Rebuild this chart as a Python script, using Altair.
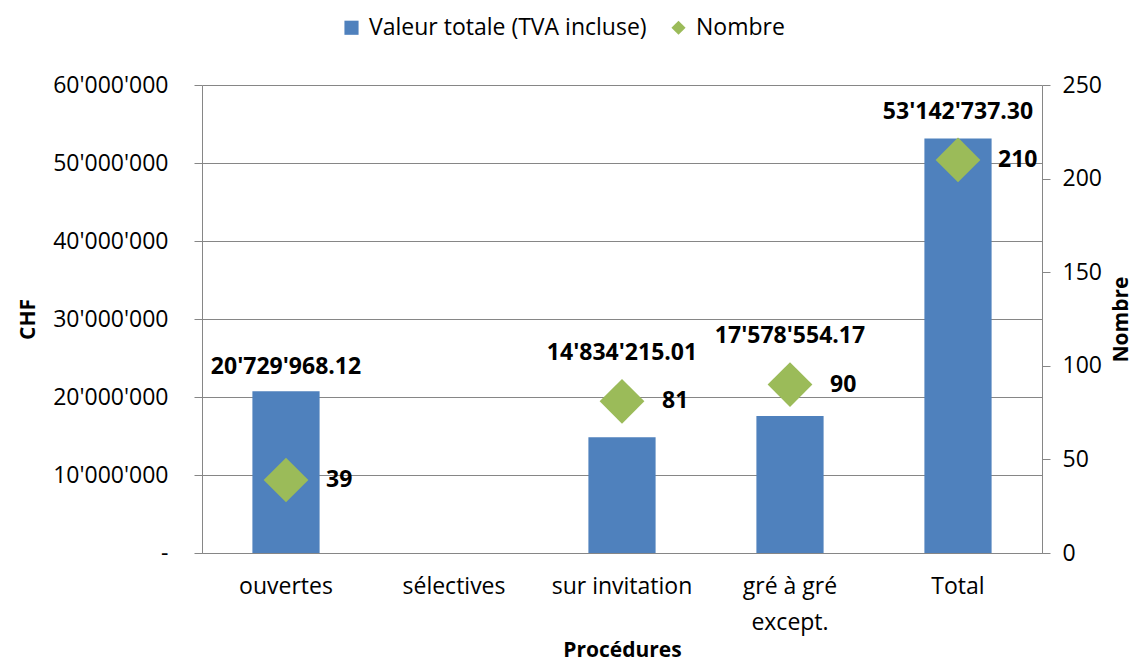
import altair as alt
import pandas as pd

categories = ["ouvertes", "sélectives", "sur invitation", "gré à gré except.", "Total"]
valeurs = [20729968.12, None, 14834215.01, 17578554.17, 53142737.30]
nombres = [39, None, 81, 90, 210]
chf_ticks = [0, 10000000, 20000000, 30000000, 40000000, 50000000, 60000000]
nombre_ticks = [0, 50, 100, 150, 200, 250]
series = ["Valeur totale (TVA incluse)", "Nombre"]

BLUE = "#4F81BD"
GREEN = "#9BBB59"
GRAY = "#868686"
FONT = "Open Sans"

df = pd.DataFrame({"cat": categories, "valeur": valeurs, "nombre": nombres})

ratio = chf_ticks[-1] / nombre_ticks[-1]

color_scale = alt.Scale(domain=series, range=[BLUE, GREEN])
shape_scale = alt.Scale(domain=series, range=["square", "diamond"])
legend = alt.Legend(
    title=None, orient="none", direction="horizontal", legendX=138, legendY=-69,
    labelFontSize=23, labelFont=FONT, labelColor="black", symbolSize=200,
    symbolStrokeWidth=0, columnPadding=20, labelLimit=0, symbolOpacity=1, labelOffset=6,
)

x_enc = alt.X(
    "cat:N", sort=categories,
    scale=alt.Scale(domain=categories, paddingInner=0.6, paddingOuter=0.3),
    axis=alt.Axis(
        title="Procédures", labelAngle=0, ticks=False, domainColor=GRAY,
        labelFontSize=23, labelPadding=22, labelLineHeight=36, labelColor="black",
        labelExpr="datum.label == 'gré à gré except.' ? ['gré à gré', 'except.'] : datum.label",
        titleFontSize=21, titleFontWeight="bold", titlePadding=5, titleColor="black",
    ),
)

left_scale = alt.Scale(domain=[chf_ticks[0], chf_ticks[-1]], nice=False)
right_scale = alt.Scale(domain=[nombre_ticks[0], nombre_ticks[-1]], nice=False)

apos = "replace(replace(format({v}, '{f}'), ',', \"'\"), ',', \"'\")"

left_axis = alt.Axis(
    title="CHF", orient="left", values=chf_ticks, grid=True, gridColor=GRAY, gridWidth=1,
    domainColor=GRAY, tickColor=GRAY, tickSize=8, labelPadding=26,
    labelFontSize=23, labelColor="black",
    labelExpr="datum.value == 0 ? '-' : " + apos.format(v="datum.value", f=","),
    titleFontSize=21, titleFontWeight="bold", titlePadding=14, titleColor="black",
)
right_axis = alt.Axis(
    title="Nombre", orient="right", values=nombre_ticks, grid=False,
    domainColor=GRAY, tickColor=GRAY, tickSize=8, labelPadding=12,
    labelFontSize=23, labelColor="black",
    titleFontSize=21, titleFontWeight="bold", titleAngle=270, titlePadding=30,
    titleColor="black",
)

bars = alt.Chart(df).transform_calculate(serie=f"'{series[0]}'").mark_bar(opacity=1).encode(
    x=x_enc,
    y=alt.Y("valeur:Q", scale=left_scale, axis=left_axis),
    color=alt.Color("serie:N", scale=color_scale, legend=legend),
)

bar_labels = alt.Chart(df).transform_filter("datum.valeur > 0").transform_calculate(
    lbl=apos.format(v="datum.valeur", f=",.2f"),
    anchor=f"max(datum.valeur, datum.nombre * {ratio} + 3100000)",
).mark_text(baseline="middle", dy=-24, fontSize=23, fontWeight="bold", font=FONT, color="black").encode(
    x=x_enc,
    y=alt.Y("anchor:Q", scale=left_scale, axis=left_axis),
    text="lbl:N",
)

points = alt.Chart(df).transform_filter("datum.nombre > 0").transform_calculate(
    serie=f"'{series[1]}'"
).mark_point(filled=True, size=2000, opacity=1).encode(
    x=x_enc,
    y=alt.Y("nombre:Q", scale=right_scale, axis=right_axis),
    color=alt.Color("serie:N", scale=color_scale, legend=legend),
    shape=alt.Shape("serie:N", scale=shape_scale, legend=legend),
)

point_labels = alt.Chart(df).transform_filter("datum.nombre > 0").mark_text(
    align="left", baseline="middle", dx=40, fontSize=23, fontWeight="bold", font=FONT, color="black"
).encode(
    x=x_enc,
    y=alt.Y("nombre:Q", scale=right_scale, axis=right_axis),
    text=alt.Text("nombre:Q", format="d"),
)

left = alt.layer(bars, bar_labels)
right = alt.layer(points, point_labels)

chart = alt.layer(left, right).resolve_scale(y="independent").properties(
    width=840, height=468,
    autosize=alt.AutoSizeParams(type="none"),
    padding={"left": 194, "top": 77, "right": 94, "bottom": 111},
).configure(font=FONT).configure_view(stroke=None)

chart.save("out.html", embed_options={"renderer": "svg", "actions": False})
